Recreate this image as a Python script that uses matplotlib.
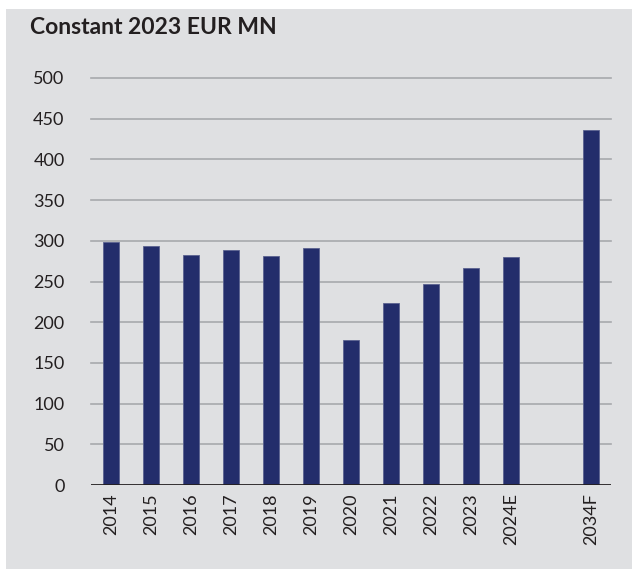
import numpy as np
import matplotlib
matplotlib.use('Agg')
import matplotlib.pyplot as plt
from matplotlib.patches import Rectangle

# 数据
years = ['2014', '2015', '2016', '2017', '2018', '2019', '2020',
         '2021', '2022', '2023', '2024E', '2034F']
slots = [0, 1, 2, 3, 4, 5, 6, 7, 8, 9, 10, 12]  # 2034F 前空一格
values = [298, 294, 282, 289, 281, 291, 178, 224, 247, 266, 280, 436]
yticks = [0, 50, 100, 150, 200, 250, 300, 350, 400, 450, 500]

bg = '#dfe0e2'
navy = '#232d6b'
plt.rcParams['font.family'] = ['Lato', 'DejaVu Sans']

fig = plt.figure(figsize=(6.32, 5.69), dpi=100)
fig.patch.set_facecolor('white')
# 灰色底板，上方和左侧留白边
fig.add_artist(Rectangle((6 / 632, 0), 1, 1 - 9 / 569, transform=fig.transFigure,
                         facecolor=bg, edgecolor='none', zorder=-10))

ax = fig.add_axes([91 / 632, 84 / 569, 520 / 632, 407 / 569])
ax.set_facecolor('none')

ax.bar(slots, values, width=0.4, color=navy, edgecolor='#5a6290', linewidth=0.6, zorder=3)

ax.set_xlim(-0.5, 12.5)
ax.set_ylim(0, 500)
ax.set_yticks(yticks)
ax.set_yticklabels([str(v) for v in yticks], fontsize=13, color='#231f20')
ax.set_xticks(slots)
ax.set_xticklabels(years, rotation=90, fontsize=13, color='#231f20')
ax.tick_params(axis='both', length=0)
ax.tick_params(axis='y', pad=19)
ax.tick_params(axis='x', pad=6)

for v in yticks[1:]:
    ax.axhline(v, color='#a7a9ac', linewidth=1.2, zorder=1, clip_on=False)
ax.axhline(0, color='#231f20', linewidth=2, zorder=4)

for s in ax.spines.values():
    s.set_visible(False)

fig.text(30 / 632, 1 - 28 / 569, 'Constant 2023 EUR MN', fontsize=16.5, fontweight='bold',
         color='#231f20', va='center', ha='left')

fig.savefig('out.png', dpi=100)
